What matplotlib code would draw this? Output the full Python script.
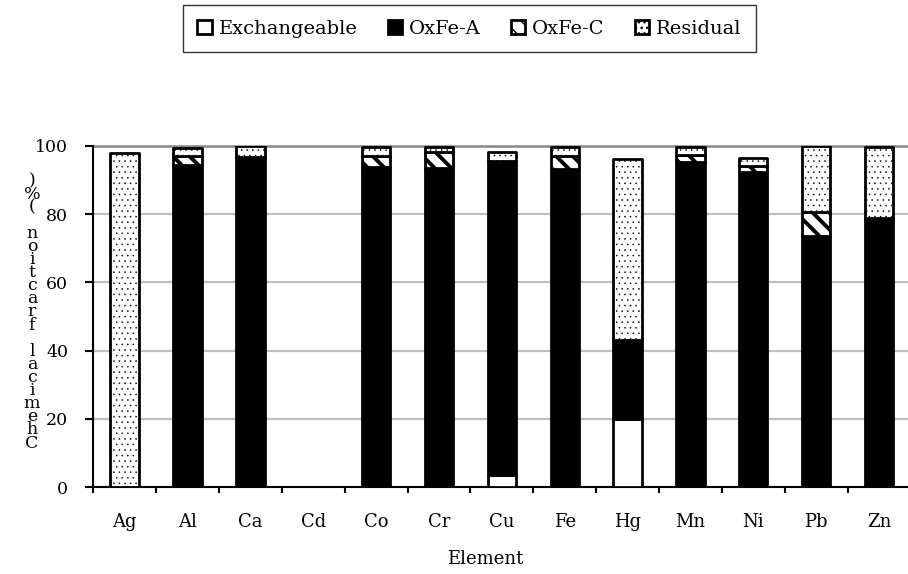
import matplotlib
matplotlib.use("Agg")
import matplotlib.pyplot as plt
import numpy as np

elements = ["Ag", "Al", "Ca", "Cd", "Co", "Cr", "Cu", "Fe", "Hg", "Mn", "Ni", "Pb", "Zn"]
exchangeable = [0, 0, 0, 0, 0, 0, 3.5, 0, 20.0, 0, 0, 0, 0]
oxfe_a = [0, 94.5, 96.5, 0, 93.8, 93.5, 92.0, 93.3, 23.0, 95.3, 92.5, 73.5, 78.6]
oxfe_c = [0, 2.5, 0.3, 0, 3.4, 4.7, 0.2, 3.8, 0, 2.2, 1.6, 7.0, 0.2]
residual = [98.0, 2.5, 3.2, 0, 2.6, 1.5, 2.6, 2.6, 53.3, 2.3, 2.5, 19.5, 20.8]
series_names = ["Exchangeable", "OxFe-A", "OxFe-C", "Residual"]
yticks = [0, 20, 40, 60, 80, 100]
ylabel_text = "Chemical fraction (%)"
xlabel_text = "Element"

plt.rcParams['font.family'] = ['DejaVu Serif']

W, H = 908, 574
fig = plt.figure(figsize=(W / 100, H / 100), dpi=100)
ax = fig.add_axes([93.2 / W, (H - 487) / H, (910.5 - 93.2) / W, (487 - 146) / H])

x = np.arange(len(elements))
width = 0.45
styles = [
    dict(facecolor="white", hatch=None, hlw=1.0),
    dict(facecolor="black", hatch=None, hlw=1.0),
    dict(facecolor="white", hatch="\\\\", hlw=2.8),
    dict(facecolor="white", hatch="...", hlw=0.35),
]
data = [exchangeable, oxfe_a, oxfe_c, residual]
bottom = np.zeros(len(elements))
for name, vals, st in zip(series_names, data, styles):
    vals = np.array(vals, dtype=float)
    with plt.rc_context({'hatch.linewidth': st["hlw"], 'hatch.color': 'black'}):
        bars = ax.bar(x, vals, width, bottom=bottom, facecolor=st["facecolor"],
                      edgecolor="black", linewidth=2.0, hatch=st["hatch"],
                      label=name, zorder=3, joinstyle='round')
    for b in bars:
        try:
            b.set_hatch_linewidth(st["hlw"])
        except Exception:
            pass
    bottom += vals

ax.set_xlim(-0.5, len(elements) - 0.5)
ax.set_ylim(0, 100)
ax.set_yticks(yticks)
ax.yaxis.grid(True, color="#c0c0c0", linewidth=1.6, zorder=0)
ax.set_axisbelow(True)
ax.axhline(100, color="#888888", linewidth=1.8, zorder=1, clip_on=False)

for s in ["top", "right"]:
    ax.spines[s].set_visible(False)
for s in ["left", "bottom"]:
    ax.spines[s].set_linewidth(1.5)
    ax.spines[s].set_color("black")

ax.set_xticks(x)
ax.set_xticklabels(elements, fontsize=13)
ax.set_xticks(np.arange(-0.5, len(elements), 1.0), minor=True)
ax.tick_params(axis="x", which="major", length=0, pad=19)
ax.tick_params(axis="x", which="minor", length=4, width=1.5, direction="out")
ax.tick_params(axis="y", which="major", length=6, width=1.5, direction="out",
               pad=12, labelsize=12.5)

ax.set_xlabel(xlabel_text, fontsize=13)
ax.xaxis.set_label_coords((485 - 93.2) / (910.5 - 93.2), -(550 - 487) / (487 - 146), transform=ax.transAxes)
ax.xaxis.label.set_va("top")

# stacked vertical y label (each character upright, bottom to top)
chars = list(ylabel_text)
base_y = 447.5
step = 13.1
for i, ch in enumerate(chars):
    if ch == " ":
        continue
    yy = base_y - i * step
    fig.text(32 / W, 1 - yy / H, ch, ha="center", va="baseline", fontsize=12.5)

leg = fig.legend(loc="center", bbox_to_anchor=(469.5 / W, 1 - 28.5 / H), ncol=4,
                 fontsize=14, frameon=True, fancybox=False, shadow=False,
                 handlelength=0.75, handleheight=0.75, handletextpad=0.35,
                 columnspacing=1.55, borderpad=0.75, edgecolor="black")
leg.get_frame().set_linewidth(1.0)

fig.savefig("out.png", dpi=100)
